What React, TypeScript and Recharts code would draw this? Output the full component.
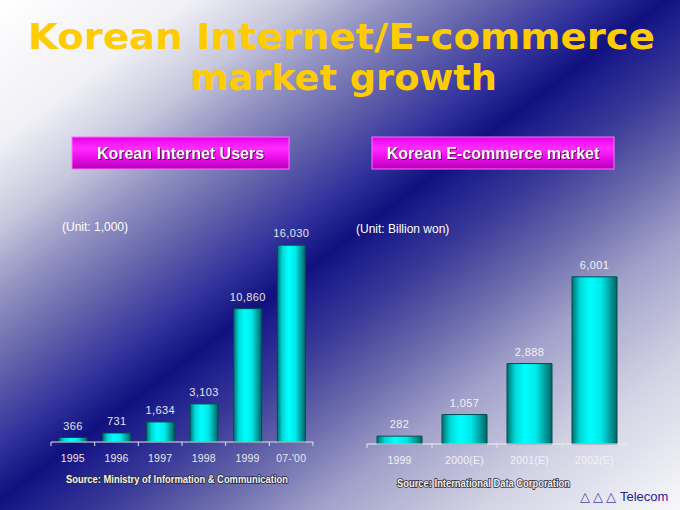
import { BarChart, Bar, XAxis, YAxis, LabelList } from "recharts";

const userYears = ["1995", "1996", "1997", "1998", "1999", "07-'00"];
const userCounts = [366, 731, 1634, 3103, 10860, 16030];

const marketYears = ["1999", "2000(E)", "2001(E)", "2002(E)"];
const marketValues = [282, 1057, 2888, 6001];

const usersData = userYears.map((year, i) => ({ year, value: userCounts[i] }));
const marketData = marketYears.map((year, i) => ({ year, value: marketValues[i] }));

const fmt = (v: number) => v.toLocaleString("en-US");

const bg =
  "linear-gradient(143.1deg, #ffffff 0%, #f0f0f6 14%, #c8c8de 22%, #9292c2 29%, #6464ac 36%, #30309c 44%, #10107e 49%, #20208e 52%, #383898 57%, #6a6aac 65%, #a0a0ca 73%, #d2d2e4 85%, #f8f8fb 100%)";

function YearTick(props: any) {
  const { x, y, payload, index, count, half, color } = props;
  const axisY = y - 10;
  return (
    <g>
      <line x1={x - half} x2={x - half} y1={axisY} y2={axisY + 4} stroke="#e4e4e4" />
      {index === count - 1 && (
        <line x1={x + half} x2={x + half} y1={axisY} y2={axisY + 4} stroke="#e4e4e4" />
      )}
      <text
        x={x}
        y={y + 10}
        textAnchor="middle"
        fill={color}
        fontSize={10.5}
        fontFamily="Liberation Sans, Arial, sans-serif"
        letterSpacing={0.2}
      >
        {payload.value}
      </text>
    </g>
  );
}

function CyanGradient({ id }: { id: string }) {
  return (
    <defs>
      <linearGradient id={id} x1="0" y1="0" x2="1" y2="0">
        <stop offset="0%" stopColor="#007070" />
        <stop offset="18%" stopColor="#00d8d8" />
        <stop offset="40%" stopColor="#00ffff" />
        <stop offset="65%" stopColor="#00e8e8" />
        <stop offset="100%" stopColor="#006464" />
      </linearGradient>
    </defs>
  );
}

function MagentaBox({ x, w, label }: { x: number; w: number; label: string }) {
  return (
    <g>
      <rect x={x} y={137} width={w} height={32} fill="url(#mag)" stroke="#ff70ff" strokeWidth={1} />
      <text
        x={x + w / 2}
        y={159}
        textAnchor="middle"
        fill="#ffffff"
        fontSize={16}
        fontWeight="bold"
        fontFamily="Liberation Sans, Arial, sans-serif"
        style={{ filter: "drop-shadow(1px 1px 0px rgba(60,0,60,0.7))" }}
      >
        {label}
      </text>
    </g>
  );
}

export default function App() {
  const leftHalf = 262 / userYears.length / 2;
  const rightHalf = 260 / marketYears.length / 2;
  return (
    <div
      style={{
        position: "absolute",
        left: 0,
        top: 0,
        width: 680,
        height: 510,
        background: bg,
        overflow: "hidden",
        fontFamily: "Liberation Sans, Arial, sans-serif",
      }}
    >
      <div style={{ position: "absolute", left: 40, top: 200 }}>
        <BarChart
          width={290}
          height={290}
          data={usersData}
          margin={{ top: 21, right: 17, left: 11, bottom: 0 }}
        >
          <CyanGradient id="cyanL" />
          <YAxis hide domain={[0, 18000]} />
          <XAxis
            dataKey="year"
            height={48}
            tickLine={false}
            tickSize={4}
            tickMargin={6}
            axisLine={{ stroke: "#e0e0e0" }}
            interval={0}
            tick={<YearTick half={leftHalf} count={userYears.length} color="#e8e8ee" />}
          />
          <Bar dataKey="value" barSize={28} fill="url(#cyanL)" stroke="#004c4c" strokeWidth={1} isAnimationActive={false}>
            <LabelList
              dataKey="value"
              position="top"
              offset={8}
              formatter={(v: any) => fmt(Number(v))}
              fill="#e4e4ea"
              fontSize={11}
              letterSpacing={0.4}
            />
          </Bar>
        </BarChart>
      </div>

      <div style={{ position: "absolute", left: 340, top: 220 }}>
        <BarChart
          width={300}
          height={280}
          data={marketData}
          margin={{ top: 29, right: 13, left: 27, bottom: 0 }}
        >
          <CyanGradient id="cyanR" />
          <YAxis hide domain={[0, 7000]} />
          <XAxis
            dataKey="year"
            height={56}
            tickLine={false}
            tickSize={4}
            tickMargin={6}
            axisLine={{ stroke: "#f0f0f0" }}
            interval={0}
            tick={<YearTick half={rightHalf} count={marketYears.length} color="#f2f2f6" />}
          />
          <Bar dataKey="value" barSize={45} fill="url(#cyanR)" stroke="#004c4c" strokeWidth={1} isAnimationActive={false}>
            <LabelList
              dataKey="value"
              position="top"
              offset={8}
              formatter={(v: any) => fmt(Number(v))}
              fill="#f2f2f6"
              fontSize={11}
              letterSpacing={0.4}
            />
          </Bar>
        </BarChart>
      </div>

      <svg
        width={680}
        height={510}
        style={{ position: "absolute", left: 0, top: 0, pointerEvents: "none" }}
      >
        <defs>
          <linearGradient id="mag" x1="0" y1="0" x2="0" y2="1">
            <stop offset="0%" stopColor="#e800e8" />
            <stop offset="35%" stopColor="#ff2cff" />
            <stop offset="60%" stopColor="#f010f0" />
            <stop offset="100%" stopColor="#b800b8" />
          </linearGradient>
        </defs>
        <text
          x={28}
          y={49}
          textLength={627}
          lengthAdjust="spacingAndGlyphs"
          fill="#ffcc00"
          fontSize={35}
          fontWeight="bold"
          fontFamily="DejaVu Sans, Verdana, sans-serif"
        >
          Korean Internet/E-commerce
        </text>
        <text
          x={190}
          y={90}
          textLength={307}
          lengthAdjust="spacingAndGlyphs"
          fill="#ffcc00"
          fontSize={35}
          fontWeight="bold"
          fontFamily="DejaVu Sans, Verdana, sans-serif"
        >
          market growth
        </text>

        <MagentaBox x={72} w={217} label="Korean Internet Users" />
        <MagentaBox x={372} w={242} label="Korean E-commerce market" />

        <text x={62} y={231} fill="#ffffff" fontSize={12} fontFamily="Liberation Sans, Arial, sans-serif">
          (Unit: 1,000)
        </text>
        <text x={356} y={233} fill="#ffffff" fontSize={12} fontFamily="Liberation Sans, Arial, sans-serif">
          (Unit: Billion won)
        </text>

        <text
          x={66}
          y={483}
          textLength={222}
          lengthAdjust="spacingAndGlyphs"
          fill="#f4f4f4"
          stroke="#2a2a3a"
          strokeWidth={1.6}
          paintOrder="stroke"
          fontSize={10}
          fontWeight="bold"
          fontFamily="Liberation Sans, Arial, sans-serif"
        >
          Source: Ministry of Information &amp; Communication
        </text>
        <text
          x={397}
          y={487}
          textLength={173}
          lengthAdjust="spacingAndGlyphs"
          fill="#f4f4f4"
          stroke="#2a2a3a"
          strokeWidth={1.6}
          paintOrder="stroke"
          fontSize={10}
          fontWeight="bold"
          fontFamily="Liberation Sans, Arial, sans-serif"
        >
          Source: International Data Corporation
        </text>

        <text x={580} y={501} fontSize={13} fontFamily="Liberation Sans, Arial, sans-serif">
          <tspan fill="#4040b8" fontSize={13} fontFamily="DejaVu Sans, sans-serif" letterSpacing={3}>
            △△△
          </tspan>
          <tspan x={620} fill="#1c1ca8">
            Telecom
          </tspan>
        </text>
      </svg>
    </div>
  );
}
